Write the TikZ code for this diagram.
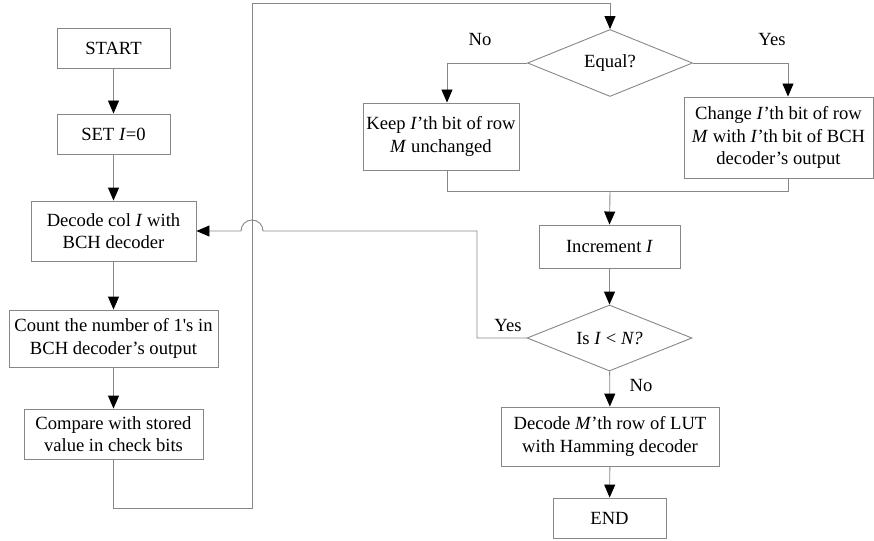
\documentclass[tikz,border=0pt]{standalone}
\usepackage{fontspec}
\setmainfont{Liberation Serif}
\usetikzlibrary{arrows.meta,shapes.geometric}
\definecolor{ln}{RGB}{135,135,135}
\begin{document}
\begin{tikzpicture}[x=1pt,y=1pt,
  box/.style={draw=ln,line width=0.9pt,rectangle,align=center,inner sep=0pt,
    font=\fontsize{18.6}{22.3}\selectfont},
  dia/.style={draw=ln,line width=0.9pt,diamond,aspect=2.4,inner sep=0pt,
    font=\fontsize{18.6}{22.3}\selectfont},
  lbl/.style={font=\fontsize{18.6}{22.3}\selectfont,inner sep=0pt},
  conn/.style={draw=ln,line width=0.9pt},
  arr/.style={conn,-{Triangle[width=11pt,length=13pt,color=black]}}]
\useasboundingbox (0,0) rectangle (874,-540);
% left column
\node[box,minimum width=113,minimum height=40] (start) at (113.5,-48) {START};
\node[box,minimum width=113,minimum height=40] (set) at (113.5,-134) {SET \textit{I}=0};
\node[box,minimum width=165,minimum height=60] (dec) at (113.5,-231) {Decode col \textit{I} with\\BCH decoder};
\node[box,minimum width=209,minimum height=57] (cnt) at (113.5,-338.5) {Count the number of 1\textquotesingle s in\\BCH decoder’s output};
\node[box,minimum width=179,minimum height=50] (cmp) at (113.5,-434) {Compare with stored\\value in check bits};
% right column
\node[dia,minimum width=165,minimum height=67] (eq) at (610,-63) {Equal?};
\node[box,minimum width=156,minimum height=67] (keep) at (441,-136.5) {Keep \textit{I}’th bit of row\\\textit{M} unchanged};
\node[box,minimum width=189,minimum height=81] (chg) at (778.5,-137.5) {Change \textit{I}’th bit of row\\\textit{M} with \textit{I}’th bit of BCH\\decoder’s output};
\node[box,minimum width=141,minimum height=43] (inc) at (609.5,-246.5) {Increment \textit{I}};
\node[dia,minimum width=165,minimum height=66] (isn) at (609.5,-338) {Is \textit{I} < \textit{N?}};
\node[box,minimum width=218,minimum height=59] (decm) at (610,-436.5) {Decode \textit{M}’th row of LUT\\with Hamming decoder};
\node[box,minimum width=113,minimum height=40] (end) at (609.5,-518) {END};
% labels
\node[lbl] (l1) at (480,-40) {No};
\node[lbl] (l2) at (772,-40) {Yes};
\node[lbl] (l3) at (508,-325) {Yes};
\node[lbl] (l4) at (641,-385) {No};
% coordinates
\coordinate (c1) at (252,-508);
\coordinate (c2) at (252,-3.5);
\coordinate (mL) at (447,-191);
\coordinate (mR) at (788,-191);
\coordinate (mC) at (610,-191);
\coordinate (y1) at (477,-338);
\coordinate (j1) at (263,-231);
% connectors
\draw[arr] (start) -- (set);
\draw[arr] (set) -- (dec);
\draw[arr] (dec) -- (cnt);
\draw[arr] (cnt) -- (cmp);
\draw[arr] (cmp.south) |- (c1) -- (c2) -| (eq.north);
\draw[arr] (eq.west) -| ([xshift=6pt]keep.north);
\draw[arr] (eq.east) -| ([xshift=9.5pt]chg.north);
\draw[conn] ([xshift=6pt]keep.south) -- (mL) -- (mR) -- ([xshift=9.5pt]chg.south);
\draw[arr] (mC) -- (inc.north);
\draw[arr] (inc) -- (isn);
\draw[arr] (isn) -- (decm);
\draw[arr] (decm) -- (end);
\draw[arr] (isn.west) -- (y1) |- (j1) arc[start angle=0,end angle=180,radius=11pt] -- (dec.east);
\end{tikzpicture}
\end{document}
